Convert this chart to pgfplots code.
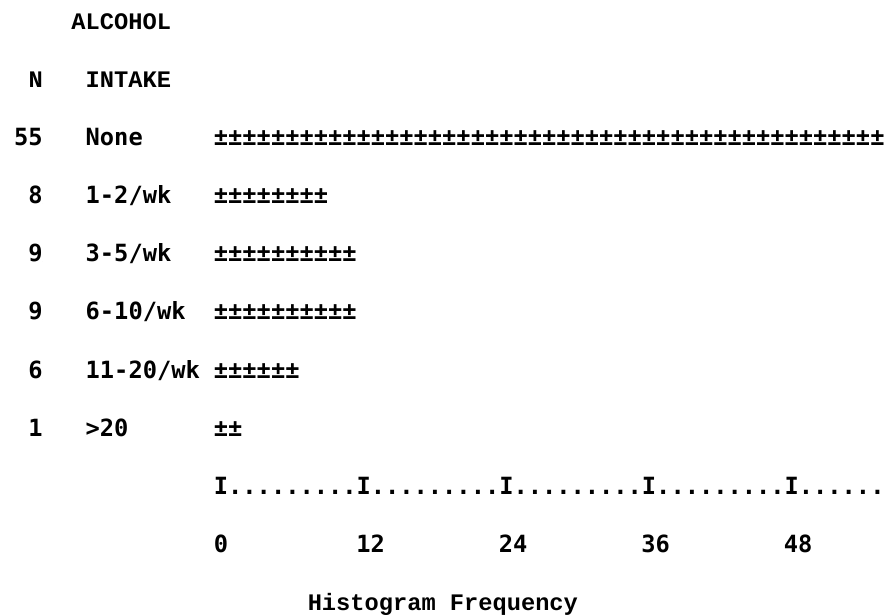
\documentclass[border=0pt]{standalone}
\usepackage{fontspec}
\newfontfamily\lgf{DejaVu Sans Mono}
\newfontfamily\cour{Liberation Mono}
\usepackage{pgfplots}
\usepackage{pgfplotstable}
\pgfplotsset{compat=1.18}
\newcommand\tw{\fontsize{23.7pt}{28pt}\selectfont}
\newcommand\pmrep[1]{\ifnum#1>0 ±\expandafter\pmrep\expandafter{\the\numexpr#1-1\relax}\fi}

% y = baseline height of each row (from bottom), N = cases, chars = number of +- symbols printed
\pgfplotstableread{
y      N   label     chars
469.3  55  None      47
411.2  8   1-2/wk    8
353.1  9   3-5/wk    10
295.0  9   6-10/wk   10
236.9  6   11-20/wk  6
178.8  1   >20       2
}\rows

\begin{document}
\begin{tikzpicture}
\begin{axis}[
  scale only axis, width=890pt, height=615pt,
  xmin=-18, xmax=56.95, ymin=0, ymax=615,
  axis y line=none, axis x line=bottom,
  x axis line style={draw=none,-},
  xtick={0,12,24,36,48}, xticklabels={0,12,24,36,48},
  major tick length=0pt,
  xticklabel style={font=\lgf\bfseries\tw, anchor=base west, inner sep=0pt, yshift=62.6pt},
  clip=false,
]
\addplot[draw=none] coordinates {(-18,0) (56.95,615)};
% N column
\addplot[only marks, mark=*, mark size=0pt, mark options={draw=none,fill=none},
  point meta=explicit symbolic, nodes near coords,
  every node near coord/.append style={font=\lgf\bfseries\tw, anchor=base east, inner sep=0pt, yshift=0pt}]
  table[x expr=-14.4, y=y, meta=N]{\rows};
% intake labels
\addplot[only marks, mark=*, mark size=0pt, mark options={draw=none,fill=none},
  point meta=explicit symbolic, nodes near coords,
  every node near coord/.append style={font=\lgf\bfseries\tw, anchor=base west, inner sep=0pt, yshift=0pt}]
  table[x expr=-10.8, y=y, meta=label]{\rows};
% histogram bars of +- symbols
\addplot[only marks, mark=*, mark size=0pt, mark options={draw=none,fill=none},
  point meta=explicit symbolic,
  nodes near coords={\pmrep{\pgfplotspointmeta}},
  every node near coord/.append style={font=\lgf\bfseries\tw, anchor=base west, inner sep=0pt, yshift=0pt}]
  table[x expr=0, y=y, meta=chars]{\rows};

\node[font=\cour\bfseries\tw, anchor=base west, inner sep=0pt] at (axis cs:-12,585.5) {ALCOHOL};
\node[font=\cour\bfseries\tw, anchor=base west, inner sep=0pt] at (axis cs:-15.6,527.4) {N};
\node[font=\cour\bfseries\tw, anchor=base west, inner sep=0pt] at (axis cs:-10.8,527.4) {INTAKE};
\node[font=\lgf\bfseries\tw, anchor=base west, inner sep=0pt] at (axis cs:0,120.7) {I.........I.........I.........I.........I......};
\node[font=\cour\bfseries\tw, anchor=base west, inner sep=0pt] at (axis cs:7.9,4.5) {Histogram Frequency};
\end{axis}
\end{tikzpicture}
\end{document}
